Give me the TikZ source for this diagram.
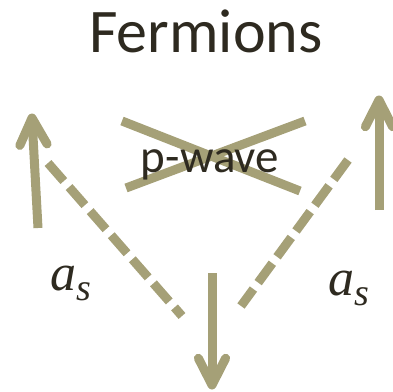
\documentclass[tikz,border=0pt]{standalone}
\usepackage{fontspec}
\setmainfont{Carlito}
\newfontfamily\mathfnt{Liberation Serif}
\usetikzlibrary{calc}
\definecolor{olive}{HTML}{A5A077}
\definecolor{ink}{HTML}{2E2A20}
\newcommand{\asym}{{\mathfnt\itshape\fontsize{52}{52}\selectfont a\raisebox{-10pt}{\fontsize{38}{38}\selectfont s}}}
\tikzset{
  shaft/.style={draw=olive, line width=9pt, line cap=butt},
  barb/.style={draw=olive, line width=9pt, line cap=round, line join=round},
  dashline/.style={draw=olive, line width=9pt, line cap=butt, dash pattern=on 24pt off 8pt},
  crossline/.style={draw=olive, line width=9pt, line cap=butt},
  lbl/.style={text=ink, inner sep=0pt}
}
\begin{document}
\begin{tikzpicture}[x=1pt,y=-1pt]
\useasboundingbox (0,0) rectangle (393,391);
% title
\node[lbl, anchor=base, font=\fontsize{62}{62}\selectfont] (title) at (206,52) {Fermions};
% cross over p-wave
\coordinate (c1a) at (122,121);
\coordinate (c1b) at (300,191);
\coordinate (c2a) at (126,188);
\coordinate (c2b) at (305,121);
\draw[crossline] (c1a) -- (c1b);
\draw[crossline] (c2a) -- (c2b);
\node[lbl, anchor=base, font=\fontsize{47}{47}\selectfont] (pw) at (210,172) {p-wave};
% left up arrow
\coordinate (lb) at (38,228);
\coordinate (lt) at (32,118);
\draw[shaft] (lb) -- (lt);
\draw[barb] ($(lt)!30pt!27:(lb)$) -- (lt) -- ($(lt)!30pt!-27:(lb)$);
% right up arrow
\coordinate (rb) at (379,210);
\coordinate (rt) at (379,100);
\draw[shaft] (rb) -- (rt);
\draw[barb] ($(rt)!30pt!27:(rb)$) -- (rt) -- ($(rt)!30pt!-27:(rb)$);
% bottom down arrow
\coordinate (bb) at (212,273);
\coordinate (bt) at (212,385);
\draw[shaft] (bb) -- (bt);
\draw[barb] ($(bt)!30pt!27:(bb)$) -- (bt) -- ($(bt)!30pt!-27:(bb)$);
% dashed lines
\coordinate (dl1) at (48,163);
\coordinate (dl2) at (182,316);
\coordinate (dr1) at (348,160);
\coordinate (dr2) at (241,306);
\draw[dashline] (dl1) -- (dl2);
\draw[dashline] (dr1) -- (dr2);
% labels
\node[lbl, anchor=base west] (asl) at (50,290) {\asym};
\node[lbl, anchor=base west] (asr) at (328,295) {\asym};
\end{tikzpicture}
\end{document}
